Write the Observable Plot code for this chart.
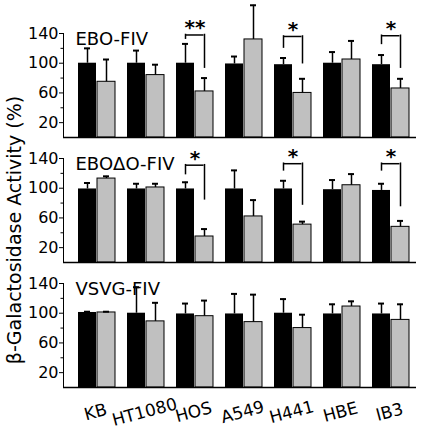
<!DOCTYPE html>
<html><head><meta charset="utf-8">
<script src="https://cdn.jsdelivr.net/npm/d3@7"></script>
<script src="https://cdn.jsdelivr.net/npm/@observablehq/plot@0.6"></script>
<style>
body{margin:0;background:#fff;}
#chart{position:relative;width:422px;height:434px;font-family:"DejaVu Sans",sans-serif;}
#chart svg{position:absolute;left:0;overflow:visible;background:transparent;}
#ylabel{position:absolute;left:14px;top:230px;transform:translate(-50%,-50%) rotate(-90deg);white-space:nowrap;font-size:19px;color:#000;}
</style></head><body><div id="chart"></div>
<script>
const cells = ["KB","HT1080","HOS","A549","H441","HBE","IB3"];
const panelTitles = ["EBO-FIV","EBOΔO-FIV","VSVG-FIV"];
const yTicks = [20,60,100,140];
const yMinorTicks = [40,80,120];
const yLabel = "β-Galactosidase Activity (%)";

// control (black) and treated (gray) means and upper error sizes, per panel
const controlMean = [
  [100,100,100,99,98,100,98],
  [99,99,99,99,99,98,97],
  [101,100,99,99,100,99,99]];
const controlErr = [
  [20,17,26,10,9,15,13],
  [8,7,9,25,11,13,9],
  [1,35,14,27,19,13,14]];
const treatedMean = [
  [75,84,62,132,60,105,66],
  [113,101,35,62,51,104,48],
  [101,89,96,88,80,109,91]];
const treatedErr = [
  [30,14,18,46,19,25,13],
  [3,5,10,22,4,15,8],
  [1,25,21,37,18,7,21]];

// significance brackets
const sigCells = [["HOS","H441","IB3"],["HOS","H441","IB3"],[]];
const sigLabels = [["**","*","*"],["*","*","*"],[]];
const bracketTop = [[138,136,137],[131,133,133],[]];
const bracketLeftEnd = [[133,121,126],[119,124,124],[]];
const bracketRightEnd = [[94,100,94],[85,78,76],[]];

const chart = document.getElementById("chart");
const xOpts = {type:"band", domain: cells, paddingInner:0.235, paddingOuter:0.171, align:0.7};
let bw;
try { bw = Plot.scale({x:{...xOpts, range:[63,416]}}).bandwidth; } catch(e) {}
if (!bw) { const step = 353/(7-0.235+2*0.171); bw = step*(1-0.235); }
const half = bw/2, q = bw/4, capIn = (bw-7)/2;

function panel(p, top, marginBottom, showX) {
  const rows = cells.map((c,i)=>({cell:c, ctrl:controlMean[p][i], ctrlTop:controlMean[p][i]+controlErr[p][i],
    trt:treatedMean[p][i], trtTop:treatedMean[p][i]+treatedErr[p][i]}));
  const sig = sigCells[p].map((c,j)=>({cell:c, label:sigLabels[p][j], top:bracketTop[p][j],
    left:bracketLeftEnd[p][j], right:bracketRightEnd[p][j]}));
  const marks = [
    Plot.barY(rows, {x:"cell", y:"ctrl", fill:"black", insetRight:half}),
    Plot.barY(rows, {x:"cell", y:"trt", fill:"#c0c0c0", stroke:"black", strokeWidth:1, insetLeft:half}),
    Plot.ruleX(rows, {x:"cell", y1:"ctrl", y2:"ctrlTop", dx:-q, strokeWidth:1.5}),
    Plot.tickY(rows, {x:"cell", y:"ctrlTop", dx:-q, insetLeft:capIn, insetRight:capIn, strokeWidth:2}),
    Plot.ruleX(rows, {x:"cell", y1:"trt", y2:"trtTop", dx:q, strokeWidth:1.5}),
    Plot.tickY(rows, {x:"cell", y:"trtTop", dx:q, insetLeft:capIn, insetRight:capIn, strokeWidth:2}),
    Plot.ruleX(sig, {x:"cell", y1:"left", y2:"top", dx:-q, strokeWidth:1.5, strokeLinecap:"square"}),
    Plot.ruleX(sig, {x:"cell", y1:"right", y2:"top", dx:q, strokeWidth:1.5, strokeLinecap:"square"}),
    Plot.tickY(sig, {x:"cell", y:"top", insetLeft:q, insetRight:q, strokeWidth:1.5}),
    Plot.text(sig, {x:"cell", y:"top", text:"label", dy:-7, fontSize:20, fontWeight:"bold"}),
    Plot.ruleY([0], {strokeWidth:1.5}),
    Plot.frame({anchor:"left", strokeWidth:1}),
    Plot.axisY({ticks:yTicks, tickSize:4, tickPadding:1, fontSize:16, label:null}),
    Plot.axisY({ticks:yMinorTicks, tickSize:2.5, tickFormat:()=>"", label:null}),
    Plot.text([panelTitles[p]], {frameAnchor:"top-left", dx:12, dy:-1, fontSize:18, textAnchor:"start"})
  ];
  if (showX) marks.push(Plot.text(cells, {x:d=>d, frameAnchor:"bottom", dy:30, rotate:-15, fontSize:17}));
  const svg = Plot.plot({
    width:422, height:33+104+marginBottom, marginTop:33, marginBottom, marginLeft:63, marginRight:6,
    style:{fontFamily:"DejaVu Sans, sans-serif", fontSize:"16px", background:"transparent", overflow:"visible"},
    x:{...xOpts, axis:null},
    y:{domain:[0,140]},
    marks
  });
  svg.style.top = top + "px";
  chart.appendChild(svg);
}
panel(0, 0, 3, false);
panel(1, 125, 3, false);
panel(2, 250, 47, true);
const lab = document.createElement("div");
lab.id = "ylabel";
lab.textContent = yLabel;
chart.appendChild(lab);
</script>
</body></html>
